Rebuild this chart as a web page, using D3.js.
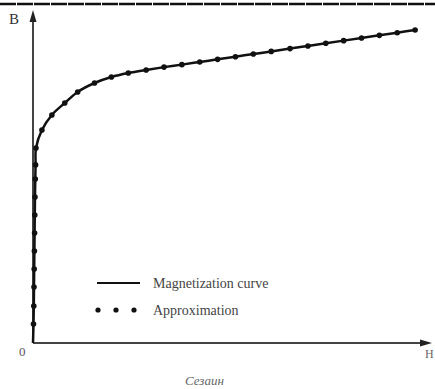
<!DOCTYPE html>
<html><head><meta charset="utf-8">
<script src="https://cdn.jsdelivr.net/npm/d3@7"></script>
<style>html,body{margin:0;padding:0;background:#fff;}svg{display:block;}</style>
</head><body>
<svg id="c" width="435" height="389"></svg>
<script>
// Magnetization curve B(H) – readings from the picture
const curveH = [0, 0.5, 0.8, 1.0, 1.2, 1.4, 1.6, 1.8, 2.0, 2.3, 2.6, 3.0, 9, 19, 32, 45, 62, 79, 96, 114, 132, 150, 168, 186, 204, 222, 240, 259, 277, 295, 313, 331, 349, 367, 385];
const curveB = [0, 0.115, 0.224, 0.338, 0.447, 0.556, 0.665, 0.773, 0.882, 0.991, 1.076, 1.178, 1.287, 1.378, 1.450, 1.517, 1.571, 1.607, 1.631, 1.650, 1.667, 1.682, 1.698, 1.714, 1.730, 1.746, 1.762, 1.779, 1.795, 1.811, 1.827, 1.843, 1.859, 1.875, 1.891];
// Approximation points
const approxH = [0.5, 0.8, 1.0, 1.2, 1.4, 1.6, 1.8, 2.0, 2.3, 2.6, 3.0, 9, 19, 32, 45, 62, 79, 96, 114, 132, 150, 168, 186, 204, 222, 240, 259, 277, 295, 313, 331, 349, 367, 385];
const approxB = [0.115, 0.224, 0.338, 0.447, 0.556, 0.665, 0.773, 0.882, 0.991, 1.076, 1.178, 1.287, 1.378, 1.450, 1.517, 1.571, 1.607, 1.631, 1.650, 1.667, 1.682, 1.698, 1.714, 1.730, 1.746, 1.762, 1.779, 1.795, 1.811, 1.827, 1.843, 1.859, 1.875, 1.891];
const legendLabels = ["Magnetization curve", "Approximation"];
const axisLabels = {y: "B", x: "H", origin: "0"};
const caption = "Сезаин";

const svg = d3.select("#c");
const x = d3.scaleLinear().domain([0, 400]).range([33, 430]);
const y = d3.scaleLinear().domain([0, 2]).range([343, 12]);
const serif = "Liberation Serif, Times New Roman, DejaVu Serif, serif";

// top border
svg.append("line").attr("x1", 0).attr("x2", 435).attr("y1", 4).attr("y2", 4)
  .attr("stroke", "#111").attr("stroke-width", 2.5).attr("stroke-dasharray", "16,1");

// axes
const axCol = "#444";
svg.append("line").attr("x1", x(0)).attr("x2", x(0)).attr("y1", y(0)).attr("y2", 20)
  .attr("stroke", axCol).attr("stroke-width", 2);
svg.append("path").attr("d", `M${x(0)-3.5},22 L${x(0)},10 L${x(0)+3.5},22 Z`).attr("fill", "#222");
svg.append("line").attr("x1", x(0)).attr("x2", 422).attr("y1", y(0)).attr("y2", y(0))
  .attr("stroke", axCol).attr("stroke-width", 2);
svg.append("path").attr("d", `M420,${y(0)-3.5} L432,${y(0)} L420,${y(0)+3.5} Z`).attr("fill", "#222");

svg.append("text").attr("x", 9).attr("y", 24).attr("font-family", serif).attr("font-size", 15)
  .attr("fill", "#333").text(axisLabels.y);
svg.append("text").attr("x", 19).attr("y", 356).attr("font-family", serif).attr("font-size", 13)
  .attr("fill", "#555").text(axisLabels.origin);
svg.append("text").attr("x", 425).attr("y", 358).attr("font-family", serif).attr("font-size", 12)
  .attr("fill", "#666").text(axisLabels.x);

// curve
const pts = curveH.map((h, i) => [h, curveB[i]]);
const line = d3.line().x(d => x(d[0])).y(d => y(d[1])).curve(d3.curveCatmullRom.alpha(0.5));
svg.append("path").datum(pts).attr("d", line).attr("fill", "none")
  .attr("stroke", "#111").attr("stroke-width", 2.5);

// approximation dots
svg.selectAll("circle.ap").data(approxH.map((h, i) => [h, approxB[i]])).enter()
  .append("circle").attr("class", "ap").attr("cx", d => x(d[0])).attr("cy", d => y(d[1]))
  .attr("r", 2.8).attr("fill", "#111");

// legend
svg.append("line").attr("x1", 97).attr("x2", 140).attr("y1", 283).attr("y2", 283)
  .attr("stroke", "#111").attr("stroke-width", 2);
[98, 116, 134].forEach(cx => svg.append("circle").attr("cx", cx).attr("cy", 310).attr("r", 2.6).attr("fill", "#111"));
svg.append("text").attr("x", 153).attr("y", 288).attr("font-family", serif).attr("font-size", 14)
  .attr("fill", "#444").text(legendLabels[0]);
svg.append("text").attr("x", 153).attr("y", 315).attr("font-family", serif).attr("font-size", 14)
  .attr("fill", "#444").text(legendLabels[1]);

svg.append("text").attr("x", 185).attr("y", 385).attr("font-family", serif).attr("font-size", 13)
  .attr("font-style", "italic").attr("fill", "#666").text(caption);
</script>
</body></html>
